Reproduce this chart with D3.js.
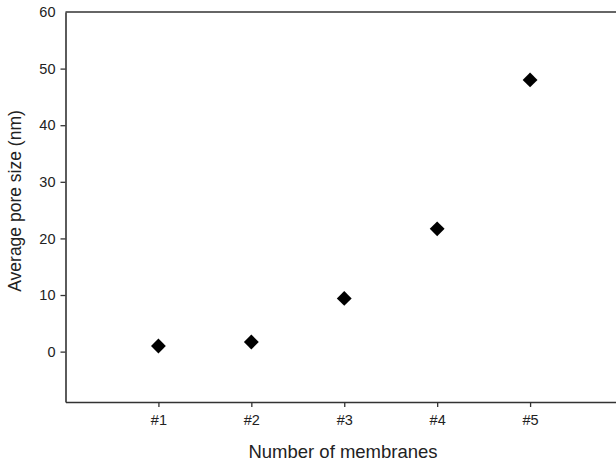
<!DOCTYPE html>
<html>
<head>
<meta charset="utf-8">
<script src="https://cdn.jsdelivr.net/npm/d3@7"></script>
<style>
  body { margin: 0; background: #fff; }
  svg { display: block; font-family: "Liberation Sans", Arial, sans-serif; }
</style>
</head>
<body>
<div id="chart"></div>
<script>
// --- data ---
const membranes = ["#1", "#2", "#3", "#4", "#5"];
const poreSize = [1.0, 1.7, 9.4, 21.7, 48.0];
const yTicks = [0, 10, 20, 30, 40, 50, 60];

const width = 616, height = 462;
// plot frame; right side runs off the picture like in the original
const plotLeft = 65.5, plotTop = 12, plotBottom = 402, plotRight = 623;

const svg = d3.select("#chart").append("svg")
    .attr("width", width)
    .attr("height", height);

const x = d3.scaleLinear().domain([0, 6]).range([plotLeft, plotRight]);
const y = d3.scaleLinear().domain([-8.9, 60]).range([plotBottom, plotTop]);

const axisColor = "#333";

// top frame line
svg.append("line")
    .attr("x1", plotLeft).attr("x2", plotRight)
    .attr("y1", plotTop).attr("y2", plotTop)
    .attr("stroke", axisColor).attr("stroke-width", 1.6);

// x axis
const xAxis = svg.append("g")
    .attr("transform", `translate(0,${plotBottom})`)
    .call(d3.axisBottom(x)
        .tickValues(d3.range(1, 6))
        .tickFormat(d => membranes[d - 1])
        .tickSize(5)
        .tickSizeOuter(0)
        .tickPadding(8));

// y axis
const yAxis = svg.append("g")
    .attr("transform", `translate(${plotLeft},0)`)
    .call(d3.axisLeft(y)
        .tickValues(yTicks)
        .tickSize(5)
        .tickSizeOuter(0)
        .tickPadding(5));

[xAxis, yAxis].forEach(g => {
  g.select(".domain").attr("stroke", axisColor).attr("stroke-width", 1.6);
  g.selectAll(".tick line").attr("stroke", axisColor).attr("stroke-width", 1.3);
  g.selectAll(".tick text")
      .attr("fill", "#222")
      .style("font-size", "14.5px")
      .style("font-family", "Liberation Sans, Arial, sans-serif");
});

// the 60 label sits flush with top frame, no tick mark there
yAxis.selectAll(".tick").filter(d => d === 60).select("line").remove();

// axis titles
svg.append("text")
    .attr("x", 343).attr("y", 458)
    .attr("text-anchor", "middle")
    .attr("fill", "#222")
    .style("font-size", "18.5px")
    .text("Number of membranes");

svg.append("text")
    .attr("transform", "translate(21,201) rotate(-90)")
    .attr("text-anchor", "middle")
    .attr("fill", "#222")
    .style("font-size", "17.5px")
    .text("Average pore size (nm)");

// diamond markers
const diamond = d3.symbol().type(d3.symbolSquare).size(110);
svg.append("g")
    .selectAll("path")
    .data(poreSize)
    .join("path")
    .attr("d", diamond)
    .attr("transform", (d, i) => `translate(${x(i + 1)},${y(d)}) rotate(45)`)
    .attr("fill", "#000");
</script>
</body>
</html>
